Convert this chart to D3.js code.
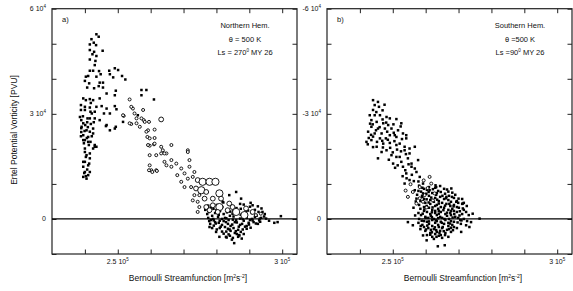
<!DOCTYPE html>
<html>
<head>
<meta charset="utf-8">
<script src="https://cdn.jsdelivr.net/npm/d3@7"></script>
<style>
  body { margin: 0; background: #fff; }
  text { font-family: "Liberation Sans", Arial, sans-serif; fill: #111; }
</style>
</head>
<body>
<svg id="chart" width="573" height="291"></svg>
<script>
// Bernoulli streamfunction in 10^3 m2 s-2, Ertel PV in 10^3 PVU
const xTicks = [240, 250, 260, 270, 280, 290, 300]
const xLabels = [[250, "2.5 10", "5"], [300, "3 10", "5"]]
const yTicksN = [-10, 0, 10, 20, 30, 40, 50, 60]
const yLabelsN = [[60, "6 10", "4"], [30, "3 10", "4"], [0, "0", ""]]
const yTicksS = [10, 0, -10, -20, -30, -40, -50, -60]
const yLabelsS = [[-60, "-6 10", "4"], [-30, "-3 10", "4"], [0, "0", ""]]

// a) Northern Hem., filled points
const nhDots = [
  [243.5,52.7],[244.2,52.0],[242.0,51.3],[242.7,50.3],[241.5,49.8],[243.4,49.6],[241.5,48.2],[242.8,47.7],
  [245.4,48.0],[242.3,47.0],[243.5,46.5],[241.5,45.5],[243.2,45.1],[243.0,43.9],[241.5,42.3],[242.5,42.3],
  [244.3,42.2],[247.4,42.3],[249.1,43.0],[250.1,42.5],[247.6,41.3],[244.8,41.3],[240.3,40.6],[241.0,40.8],
  [243.5,40.6],[248.6,40.4],[251.3,40.8],[252.3,39.8],[244.5,38.9],[245.5,38.9],[240.0,39.4],[241.3,38.7],
  [240.7,37.5],[242.8,37.3],[244.2,37.9],[245.5,37.5],[249.4,36.6],[246.6,35.8],[249.1,35.3],[239.5,34.4],
  [240.3,33.9],[241.5,34.2],[242.5,33.9],[244.5,34.4],[241.8,33.1],[238.8,32.5],[240.0,32.0],[241.5,31.8],
  [243.5,32.0],[245.1,32.2],[246.6,31.5],[249.1,32.2],[249.6,31.3],[238.8,31.1],[240.0,31.1],[241.7,30.6],
  [243.0,30.6],[245.8,30.1],[247.6,30.1],[238.5,29.1],[240.8,28.7],[243.0,28.7],[244.5,28.2],[251.6,27.7],
  [257.2,36.8],[258.7,36.8],[257.2,35.3],[261.0,34.1],[256.1,29.6],[246.4,26.5],[249.4,26.3],[247.6,25.3],
  [246.6,26.8],[249.1,25.8],[239.0,26.3],[240.5,25.3],[241.5,24.9],[242.5,25.8],[239.5,23.9],[241.0,23.4],
  [242.5,24.4],[240.0,22.5],[241.7,22.0],[243.0,20.6],[239.5,22.5],[241.0,22.0],[243.0,21.1],[243.5,20.6],
  [242.5,20.1],[240.0,19.1],[241.5,18.7],[240.3,17.7],[241.5,17.3],[240.0,16.3],[241.3,15.8],[239.5,14.9],
  [240.7,14.1],[241.5,13.4],[239.8,13.1],[240.3,12.2],[241.0,12.5],[239.5,12.0],[240.0,20.1],[240.5,18.2],
  [239.5,16.3],[241.0,15.3],[240.0,13.4],[240.5,11.5],[238.9,28.2],[239.5,27.3],[240.1,26.8],[240.7,27.6],
  [241.8,27.1],[238.9,25.9],[239.9,25.1],[240.9,26.2],[242.1,23.6],[240.6,23.1],[238.8,23.6],[239.7,21.6],
  [241.2,21.1],[238.9,24.8],[242.7,27.6],[241.5,28.7],[242.1,30.1],[239.4,29.3],
  // dense low cluster
  [286.0,7.7],[283.9,6.8],[287.5,5.8],[281.9,4.9],[291.0,3.9],[277.9,-2.3],[279.9,-3.7],[285.4,-6.9],
  [297.6,-1.1],[298.6,-0.9],[299.6,0.8],[295.1,0.1],[294.0,2.0],[293.0,-0.4],[292.0,-1.3],[282.9,-5.1],
  [287.0,-4.7],[280.9,-5.1],
  [282.1,4.7],[287.2,4.3],[290.4,4.6],[277.5,3.8],[280.1,4.0],[284.7,3.7],[288.3,4.1],[292.6,3.6],
  [278.3,3.2],[281.8,3.4],[286.1,3.1],[290.2,3.5],[276.6,2.6],[279.1,2.9],[283.5,2.6],[287.4,2.9],
  [291.7,2.6],[293.7,3.0],[277.7,2.0],[281.1,2.3],[284.2,2.1],[289.6,2.4],[292.8,2.0],[277.2,1.4],
  [279.6,1.7],[282.2,1.4],[286.6,1.8],[288.3,1.3],[290.8,1.7],[294.7,1.4],[278.7,0.9],[280.7,1.2],
  [284.1,0.9],[287.4,1.2],[292.2,0.9],[277.5,0.3],[280.5,0.6],[282.6,0.3],[285.2,0.7],[289.2,0.3],
  [291.7,0.6],[293.6,0.3],[278.3,-0.3],[281.7,0.0],[283.7,-0.3],[287.2,0.1],[290.2,-0.3],[293.2,0.1],
  [279.6,-0.9],[282.2,-0.6],[285.6,-0.9],[288.3,-0.5],[291.3,-0.9],[278.1,-1.4],[280.7,-1.1],[283.5,-1.4],
  [286.2,-1.0],[287.8,-1.4],[289.8,-1.1],[292.6,-1.4],[279.2,-1.9],[281.7,-1.7],[284.3,-2.0],[287.2,-1.7],
  [289.2,-2.0],[278.7,-2.6],[282.6,-2.3],[285.2,-2.6],[288.7,-2.2],[290.4,-2.5],[280.1,-3.0],[283.5,-2.8],
  [286.6,-3.1],[289.2,-2.8],[281.7,-3.6],[284.3,-3.4],[287.4,-3.7],[282.2,-4.2],[285.6,-4.0],[288.3,-4.3],
  [284.1,-4.8],[286.8,-4.6],[283.1,-5.3],[286.6,-5.1],[284.7,-5.9],[284.9,1.5],[281.0,-2.6],[286.0,-0.4],
  [279.0,0.0],[281.0,-0.5],[283.0,0.2],[285.0,-0.2],[288.0,0.0],[290.8,0.0],[282.9,-0.9],[284.8,-1.6],
  [286.8,-2.2],[288.0,-3.0],[283.0,-3.6],[285.9,-3.5],[281.3,-2.2],[279.8,-1.3],[277.8,-0.6],[284.0,-3.0],
  [286.2,-4.3],[283.7,-4.4],[285.0,-5.4],[287.7,-5.6],[289.9,-1.6],[291.0,-0.4],[293.3,-0.8],[294.5,0.7],
  [296.0,-0.5],[285.1,2.3],[283.2,1.9],[288.9,2.0],[279.2,-0.4],[280.0,2.5]
]

// a) Northern Hem., open circles [x, y, size class]
const nhRings = [
  [253.6,34.1,1],[251.8,29.4,1],[254.6,31.5,1],[255.1,30.1,1],[255.7,28.7,1],[254.1,27.1,1],[255.7,27.3,1],
  [256.7,26.3,1],[257.7,31.1,1],[257.9,28.2,1],[259.5,27.7,1],[263.2,28.4,2],[259.2,25.3,1],[261.2,25.5,1],
  [259.0,23.4,1],[261.2,23.1,1],[259.7,20.9,1],[261.0,21.3,1],[263.2,20.6,1],[266.3,21.1,1],[271.3,19.6,1],
  [251.6,29.6,1],[254.1,32.0,1],[257.2,28.7,1],[258.2,27.7,1],[258.7,24.9,1],[259.7,23.0,1],[263.7,19.6,1],
  [264.8,18.7,1],[263.2,18.7,1],[259.7,18.2,1],[264.2,16.3,1],[259.7,15.3,1],[260.2,13.9,1],[261.7,13.9,1],
  [253.6,27.3,1],[259.2,21.1,1],[261.2,21.5,1],[261.7,18.2,1],[264.2,18.7,1],[264.8,15.3,1],[266.3,16.8,1],
  [267.8,15.8,1],[259.5,13.9,1],[260.5,13.4,1],[261.9,13.7,1],[266.3,14.9,1],[268.1,12.5,1],[269.3,14.4,1],
  [270.3,13.0,1],[271.3,19.1,1],[271.8,16.8,1],[271.8,14.9,1],[273.3,13.4,1],[269.3,10.6,1],[271.3,11.5,1],
  [272.8,12.0,1],[274.3,11.1,2],[275.8,10.6,3],[277.9,10.6,3],[279.7,10.6,3],[270.3,9.1,1],[272.3,9.1,1],
  [273.8,8.7,2],[275.4,8.2,3],[276.9,7.7,2],[273.3,6.8,1],[274.8,6.8,1],[280.9,7.3,3],[272.8,5.3,1],
  [274.3,4.9,1],[276.4,5.8,2],[278.9,5.8,2],[281.4,5.8,2],[274.8,3.4,1],[276.9,3.4,2],[278.9,3.9,2],
  [280.9,3.4,3],[283.9,4.4,2],[284.9,3.4,2],[274.3,2.0,1],[277.9,2.5,2],[280.4,2.0,2],[283.4,2.5,2],
  [286.0,2.0,3],[289.0,3.0,2],[291.0,2.0,2],[288.5,1.1,3],[292.0,1.1,1],[293.5,1.5,1]
]

// b) Southern Hem., filled points
const shDots = [
  [244.0,-33.9],[245.5,-33.4],[244.5,-32.5],[245.8,-32.0],[244.0,-31.1],[243.0,-29.6],[244.5,-29.6],[246.1,-29.6],
  [248.1,-29.1],[249.1,-28.7],[251.1,-28.5],[243.5,-28.2],[245.1,-27.7],[247.1,-27.3],[248.6,-26.8],[243.5,-26.3],
  [245.5,-25.8],[247.6,-25.8],[249.6,-25.8],[251.6,-25.3],[242.5,-24.9],[244.5,-24.4],[246.6,-24.4],[249.1,-23.9],
  [251.1,-23.4],[254.1,-23.9],[242.0,-22.0],[243.5,-22.5],[245.2,-22.0],[247.1,-21.5],[249.1,-21.7],[252.1,-21.5],
  [253.6,-20.6],[256.7,-20.6],[255.1,-20.1],[252.6,-27.3],[250.6,-23.9],[253.1,-24.4],[254.1,-23.0],[253.6,-19.6],
  [251.1,-17.7],[255.1,-18.7],[257.7,-16.8],[255.7,-15.8],[253.1,-14.9],[256.7,-14.4],[245.1,-20.6],[246.6,-19.1],
  [245.5,-17.3],[248.1,-19.6],[251.1,-21.1],[252.1,-17.7],[254.6,-17.3],[250.1,-15.8],[251.5,-15.3],[255.7,-14.9],
  [254.1,-13.0],[257.2,-13.4],[255.1,-11.1],[258.2,-12.0],[259.2,-10.1],[253.6,-10.1],[256.7,-8.2],[257.2,-5.8],
  [259.2,-7.3],[261.2,-8.2],[263.2,-9.1],[267.8,-8.7],[266.3,-6.3],[269.3,-4.9],[271.3,-4.4],[274.3,-1.5],
  [276.4,-0.1],[273.8,0.9],[272.3,1.8],[273.3,2.3],[270.8,3.7],[254.6,0.9],[256.1,1.8],[260.3,6.1],
  [263.7,7.8],[265.8,7.5],[259.2,4.7],[242.7,-23.1],[242.4,-21.3],[244.0,-20.5],[247.9,-23.0],[250.0,-19.0],
  [248.8,-16.9],[253.0,-12.2],[246.9,-31.0],[247.5,-32.6],[243.1,-27.2],[252.4,-26.4],
  [245.0,-30.5],[246.9,-28.4],[243.9,-27.0],[246.0,-26.2],[248.3,-24.9],[250.3,-24.6],[244.0,-23.5],[246.1,-23.0],
  [248.5,-22.6],[250.5,-22.2],[252.8,-22.8],[247.0,-20.4],[249.2,-20.3],[251.3,-19.8],[254.0,-18.5],[249.6,-18.2],
  [252.6,-16.3],[254.8,-15.6],[250.7,-14.6],[253.8,-13.9],[255.8,-12.6],[256.4,-10.8],[257.8,-10.7],[254.2,-11.6],
  [252.5,-19.3],[243.4,-24.0],[244.9,-25.3],[246.8,-22.3],[248.0,-27.5],[250.2,-27.0],
  // dense core
  [258.0,-9.5],[261.0,-9.1],[264.4,-9.4],[259.5,-8.6],[262.9,-8.9],[265.6,-8.6],[257.8,-8.0],[260.4,-8.3],
  [263.8,-8.0],[266.5,-8.4],[258.6,-7.8],[262.0,-7.4],[264.6,-7.7],[268.1,-7.5],[257.4,-6.9],[260.2,-7.2],
  [263.2,-6.9],[265.9,-7.2],[269.0,-6.9],[259.0,-6.3],[261.0,-6.6],[264.4,-6.3],[267.1,-6.6],[259.5,-5.7],
  [262.9,-6.0],[265.6,-5.7],[268.6,-6.0],[271.1,-5.7],[258.4,-5.1],[261.4,-5.4],[264.0,-5.1],[266.9,-5.4],
  [269.5,-5.1],[259.9,-4.6],[262.5,-4.9],[265.0,-4.6],[267.7,-4.9],[271.6,-4.6],[258.0,-4.0],[261.4,-4.3],
  [263.4,-4.0],[266.3,-4.3],[268.6,-4.0],[271.1,-4.3],[259.5,-3.4],[262.9,-3.7],[264.6,-3.4],[267.5,-3.7],
  [269.5,-3.4],[272.5,-3.7],[258.4,-2.9],[261.0,-3.2],[263.8,-2.9],[265.6,-3.2],[268.1,-2.9],[270.1,-3.2],
  [259.5,-2.3],[262.0,-2.6],[264.0,-2.3],[266.9,-2.6],[268.6,-2.3],[271.6,-2.6],[257.8,-1.7],[260.4,-2.0],
  [262.9,-1.7],[264.6,-2.0],[267.5,-1.7],[269.5,-2.0],[258.6,-1.1],[261.4,-1.4],[263.4,-1.1],[266.0,-1.4],
  [267.7,-1.1],[271.1,-1.4],[273.1,-1.1],[259.9,-0.6],[261.6,-0.9],[264.4,-0.6],[266.5,-0.9],[269.0,-0.6],
  [258.0,0.0],[260.8,-0.3],[262.5,0.0],[265.0,-0.3],[267.1,0.0],[269.9,-0.3],[271.6,0.0],[259.5,0.6],
  [262.0,0.3],[263.4,0.6],[266.0,0.3],[267.7,0.6],[270.5,0.3],[257.8,1.1],[260.4,0.8],[262.9,1.1],
  [264.6,0.8],[266.9,1.1],[268.6,0.8],[259.0,1.7],[261.0,1.4],[263.8,1.7],[265.6,1.4],[268.1,1.7],
  [270.7,1.4],[259.5,2.3],[262.0,2.0],[264.0,2.3],[266.9,2.0],[268.6,2.3],[258.4,2.9],[260.8,2.6],
  [262.5,2.9],[265.0,2.6],[267.1,2.9],[269.5,2.6],[259.9,3.4],[261.6,3.1],[264.4,3.4],[266.5,3.1],
  [261.4,4.0],[263.4,3.7],[266.0,4.0],[267.7,3.7],[260.4,4.6],[262.9,4.3],[264.6,4.6],[262.0,5.1],
  [264.0,4.8],[266.9,5.1],[262.5,5.7],[265.0,5.4],
  [259.0,-8.9],[262.2,-8.5],[263.0,-9.6],[260.9,-7.7],[263.4,-7.4],[266.9,-7.8],[258.9,-6.6],[261.7,-6.1],
  [265.1,-6.6],[268.0,-6.3],[260.3,-5.6],[263.5,-5.5],[266.2,-5.9],[270.0,-5.8],[260.9,-4.7],[264.0,-4.4],
  [267.2,-4.3],[269.9,-4.6],[260.3,-3.7],[262.1,-3.3],[265.9,-3.8],[268.5,-3.6],[271.3,-3.0],[259.6,-2.7],
  [262.9,-2.3],[265.4,-2.5],[267.7,-2.3],[270.4,-2.2],[259.1,-1.5],[261.9,-1.9],[264.0,-1.5],[266.5,-1.8],
  [268.7,-1.4],[270.3,-1.0],[260.0,-0.3],[261.9,-0.5],[263.8,-0.2],[265.7,0.0],[268.2,-0.4],[270.9,0.4],
  [258.8,0.5],[261.0,0.7],[263.1,0.4],[264.9,1.1],[267.4,1.3],[269.7,1.0],[258.5,2.0],[260.5,1.9],
  [262.8,2.4],[265.2,2.3],[267.7,2.5],[260.1,3.0],[263.2,3.2],[265.5,3.5],[268.3,3.2],[261.9,3.8],
  [264.2,4.0],[263.3,5.1],[261.4,4.5],[265.9,4.6],[256.8,-1.0],[256.3,-3.2],[257.0,-5.0],[272.3,-2.0],
  [272.6,0.6]
]

// b) Southern Hem., open circles [x, y, size class]
const shRings = [
  [261.2,-12.0,1],[256.1,-7.7,1],[258.2,-9.1,1],[259.7,-6.8,1],[257.2,-4.4,1],[259.2,-4.9,1],[261.7,-10.1,1],
  [262.2,-5.3,1],[254.6,-6.3,1],[259.4,-11.0,1],[260.6,-8.8,1],[258.2,-5.9,1],[262.7,-7.3,1],[260.3,-3.3,1],
  [255.4,-9.9,1],[253.9,-8.1,1]
]

const svg = d3.select("#chart")
const plotW = 245
const plotTop = 8.7, plotBottom = 254

function powLabel(sel, mant, exp) {
  sel.append("tspan").text(mant)
  if (exp) sel.append("tspan").attr("dy", -3.5).style("font-size", "4.5px").text(exp)
}

function drawPanel(x0, yDomain, yTicks, yLabels, dots, rings, tag, notes, showYTitle) {
  const x = d3.scaleLinear().domain([230, 304.5]).range([x0, x0 + plotW])
  const y = d3.scaleLinear().domain(yDomain).range([plotBottom, plotTop])
  const g = svg.append("g")

  // ticks on all four sides, pointing inward
  g.append("g").attr("transform", `translate(0,${plotBottom})`)
    .call(d3.axisBottom(x).tickValues(xTicks).tickSize(-4.5).tickFormat(""))
  g.append("g").attr("transform", `translate(0,${plotTop})`)
    .call(d3.axisTop(x).tickValues(xTicks).tickSize(-4.5).tickFormat(""))
  g.append("g").attr("transform", `translate(${x0},0)`)
    .call(d3.axisLeft(y).tickValues(yTicks).tickSize(-4.5).tickFormat(""))
  g.append("g").attr("transform", `translate(${x0 + plotW},0)`)
    .call(d3.axisRight(y).tickValues(yTicks).tickSize(-4.5).tickFormat(""))
  g.selectAll(".domain").remove()
  g.selectAll(".tick line").style("stroke", "#222").style("stroke-width", 1)

  g.append("rect")
    .attr("x", x0).attr("y", plotTop)
    .attr("width", plotW).attr("height", plotBottom - plotTop)
    .style("fill", "none").style("stroke", "#222").style("stroke-width", 1.2)

  // zero line
  g.append("line")
    .attr("x1", x0).attr("x2", x0 + plotW)
    .attr("y1", y(0)).attr("y2", y(0))
    .style("stroke", "#000").style("stroke-width", 1.2)

  g.selectAll("rect.dot").data(dots).enter().append("rect")
    .attr("class", "dot")
    .attr("x", d => x(d[0]) - 1.25).attr("y", d => y(d[1]) - 1.25)
    .attr("width", 2.5).attr("height", 2.5)
    .style("fill", "#000")

  const rad = [0, 1.5, 2.4, 3.6]
  g.selectAll("circle.ring").data(rings).enter().append("circle")
    .attr("class", "ring")
    .attr("cx", d => x(d[0])).attr("cy", d => y(d[1]))
    .attr("r", d => rad[d[2]])
    .style("fill", "#fff").style("stroke", "#000").style("stroke-width", 0.9)

  // tick labels
  xLabels.forEach(l => {
    const t = g.append("text").attr("x", x(l[0])).attr("y", 264)
      .attr("text-anchor", "middle").style("font-size", "7px")
    powLabel(t, l[1], l[2])
  })
  yLabels.forEach(l => {
    const t = g.append("text").attr("x", x0 - 6).attr("y", y(l[0]) + 2.5)
      .attr("text-anchor", "end").style("font-size", "7px")
    powLabel(t, l[1], l[2])
  })

  g.append("text").attr("x", x0 + 10).attr("y", 22).style("font-size", "7.5px").text(tag)

  notes.forEach((n, i) => {
    const t = g.append("text").attr("x", x0 + 193).attr("y", 28 + i * 13.5)
      .attr("text-anchor", "middle").style("font-size", "7.5px")
    t.append("tspan").text(n[0])
    if (n[1]) {
      t.append("tspan").attr("dy", -3).style("font-size", "4.5px").text(n[1])
      t.append("tspan").attr("dy", 3).text(n[2])
    }
  })

  const xt = g.append("text").attr("x", x0 + 136).attr("y", 281)
    .attr("text-anchor", "middle").style("font-size", "8.5px")
  xt.append("tspan").text("Bernoulli Streamfunction [m")
  xt.append("tspan").attr("dy", -3).style("font-size", "5px").text("2")
  xt.append("tspan").attr("dy", 3).text("s")
  xt.append("tspan").attr("dy", -3).style("font-size", "5px").text("-2")
  xt.append("tspan").attr("dy", 3).text("]")

  if (showYTitle) {
    g.append("text").attr("transform", `translate(17,130) rotate(-90)`)
      .attr("text-anchor", "middle").style("font-size", "8.5px")
      .text("Ertel Potential Vorticity [PVU]")
  }
}

drawPanel(52, [-10, 60], yTicksN, yLabelsN, nhDots, nhRings, "a)",
  [["Northern Hem."], ["θ = 500 K"], ["Ls = 270", "0", "  MY 26"]], true)
drawPanel(327, [10, -60], yTicksS, yLabelsS, shDots, shRings, "b)",
  [["Southern Hem."], ["θ =500 K"], ["Ls =90", "0", "  MY 26"]], false)
</script>
</body>
</html>
